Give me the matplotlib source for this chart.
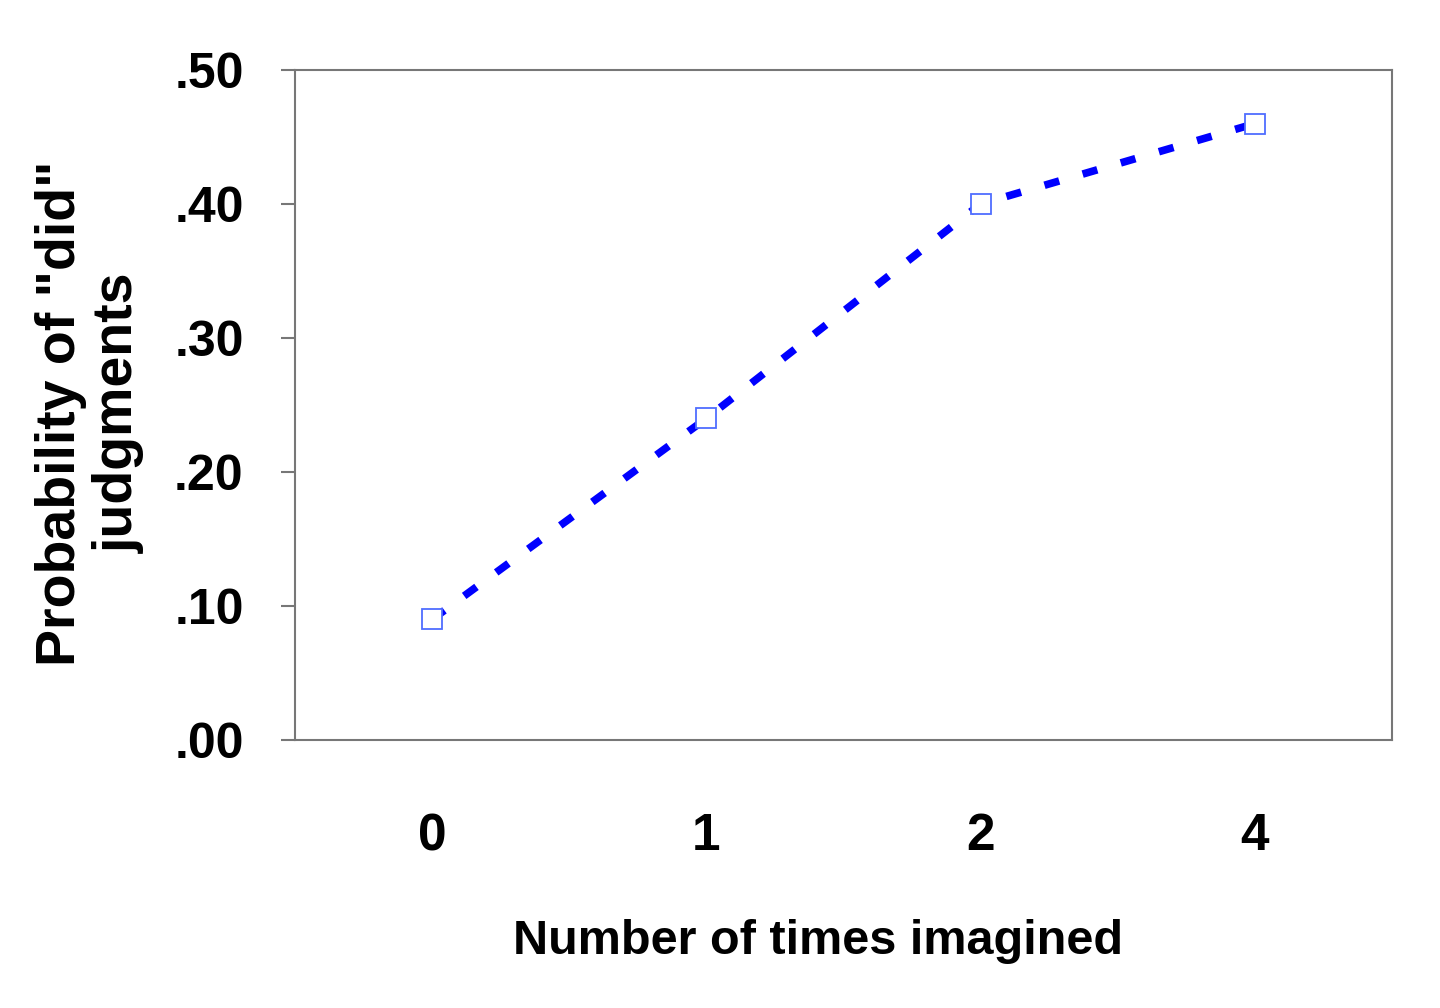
import matplotlib
matplotlib.use("Agg")
import matplotlib.pyplot as plt
from matplotlib.font_manager import FontProperties

categories = ["0", "1", "2", "4"]
values = [0.09, 0.24, 0.40, 0.46]
yticks = [0.0, 0.1, 0.2, 0.3, 0.4, 0.5]
ytick_labels = [".00", ".10", ".20", ".30", ".40", ".50"]


def fp(size):
    return FontProperties(family=["Liberation Sans", "DejaVu Sans"], weight="bold", size=size)


fig = plt.figure(figsize=(14.4, 10.08), dpi=100)
ax = fig.add_axes([295/1440, 1-740/1008, (1392-295)/1440, (740-70)/1008])

x = list(range(len(categories)))
ax.plot(x, values, color="#0000ff", linewidth=5.5, linestyle=(0, (2.0, 3.2)),
        dash_capstyle="butt", zorder=2)
ax.plot(x, values, linestyle="none", marker="s", markersize=15,
        markerfacecolor="white", markeredgecolor="#4f6dff", markeredgewidth=1.3, zorder=3)

ax.set_xlim(-0.5, 3.5)
ax.set_ylim(0, 0.5)
ax.set_xticks(x)
ax.set_xticklabels(categories)
ax.set_yticks(yticks)
ax.set_yticklabels(ytick_labels)

for s in ax.spines.values():
    s.set_color("#777777")
    s.set_linewidth(1.5)

ax.tick_params(axis="y", direction="out", length=10, width=1.5, color="#777777", pad=27)
ax.tick_params(axis="x", length=0, pad=52)
for lab in ax.get_yticklabels():
    lab.set_fontproperties(fp(36))
for lab in ax.get_xticklabels():
    lab.set_fontproperties(fp(37))

ax.set_xlabel("Number of times imagined", fontproperties=fp(35))
ax.xaxis.label.set_va("center")
ax.xaxis.set_label_coords(0.477, -0.300)

ax.set_ylabel('Probability of "did"\njudgments', fontproperties=fp(40), linespacing=1.15)
ax.yaxis.label.set_va("center")
ax.yaxis.set_label_coords(-0.187, 0.488)

fig.savefig("out.png", dpi=100, facecolor="white")
